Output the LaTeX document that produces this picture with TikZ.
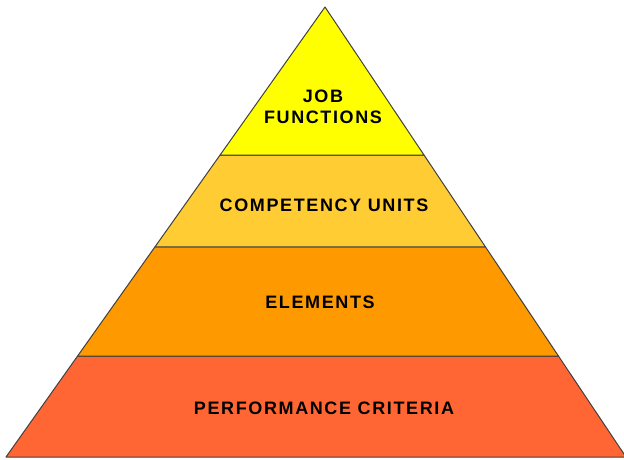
\documentclass[tikz,border=0pt]{standalone}
\usepackage{fontspec}
\setmainfont{Liberation Sans}
\usetikzlibrary{calc}
\definecolor{topyellow}{HTML}{FFFF00}
\definecolor{unitamber}{HTML}{FFCC33}
\definecolor{elemorange}{HTML}{FF9900}
\definecolor{critred}{HTML}{FF6633}
\tikzset{
  layer/.style={draw=black!75, line width=1pt, line join=round},
  tier/.style={font=\fontsize{18}{21}\selectfont\bfseries\addfontfeature{LetterSpace=9}, align=center, text=black}
}
\begin{document}
\begin{tikzpicture}[x=1pt,y=-1pt]
\useasboundingbox (0,0) rectangle (624,459);
\clip (0,0) rectangle (624,459);
\coordinate (apex) at (325,7);
\coordinate (bl) at (6,457);
\coordinate (br) at (626,457);
% band edges
\coordinate (l1) at ($(apex)!0.329!(bl)$);
\coordinate (r1) at ($(apex)!0.329!(br)$);
\coordinate (l2) at ($(apex)!0.533!(bl)$);
\coordinate (r2) at ($(apex)!0.533!(br)$);
\coordinate (l3) at ($(apex)!0.776!(bl)$);
\coordinate (r3) at ($(apex)!0.776!(br)$);
\draw[layer, fill=critred] (l3) -- (r3) -- (br) -- (bl) -- cycle;
\draw[layer, fill=elemorange] (l2) -- (r2) -- (r3) -- (l3) -- cycle;
\draw[layer, fill=unitamber] (l1) -- (r1) -- (r2) -- (l2) -- cycle;
\draw[layer, fill=topyellow] (apex) -- (r1) -- (l1) -- cycle;
\node[tier] (job) at (323,107) {JOB\\FUNCTIONS};
\node[tier] (units) at (324,205) {COMPETENCY UNITS};
\node[tier] (elements) at (320,302) {ELEMENTS};
\node[tier] (criteria) at (324,408) {PERFORMANCE CRITERIA};
\end{tikzpicture}
\end{document}
